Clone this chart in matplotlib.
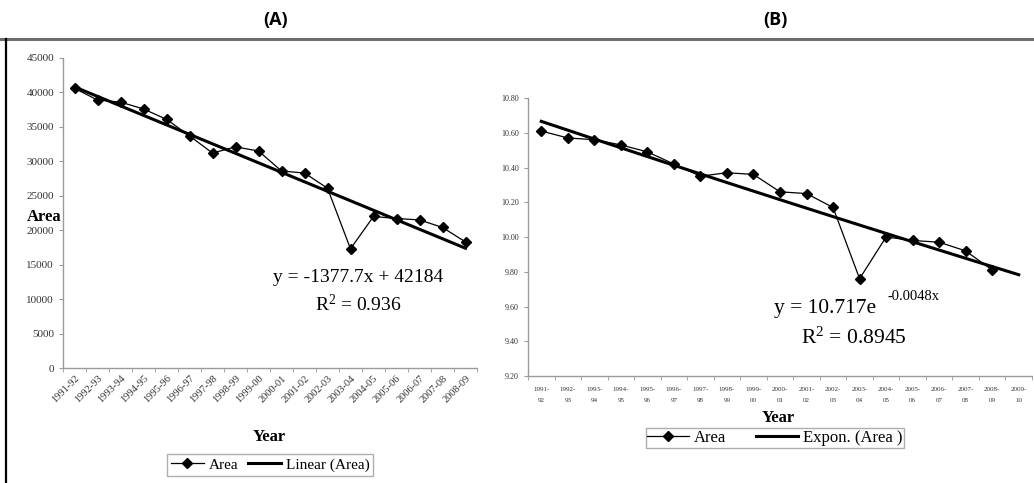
import numpy as np
import matplotlib
matplotlib.use("Agg")
import matplotlib.pyplot as plt
from matplotlib.lines import Line2D

W, H = 1034, 483

years_a = ["1991-92", "1992-93", "1993-94", "1994-95", "1995-96", "1996-97",
           "1997-98", "1998-99", "1999-00", "2000-01", "2001-02", "2002-03",
           "2003-04", "2004-05", "2005-06", "2006-07", "2007-08", "2008-09"]
area = [40600, 38900, 38600, 37600, 36100, 33700, 31200, 32100, 31500,
        28600, 28300, 26100, 17300, 22000, 21700, 21500, 20400, 18300]

years_b = years_a + ["2009-10"]
log_area = [10.61, 10.57, 10.56, 10.53, 10.49, 10.42, 10.35, 10.37, 10.36,
            10.26, 10.25, 10.17, 9.76, 10.00, 9.98, 9.97, 9.92, 9.81]

# trendline coefficients as printed on the charts
lin_slope, lin_icept = -1377.7, 42184
exp_a, exp_b = 10.717, -0.0048

SERIF = "Liberation Serif"
AXIS_GREY = "#9a9a9a"
TICK_COL = "#333333"

plt.rcParams["mathtext.fontset"] = "custom"
plt.rcParams["mathtext.rm"] = SERIF
plt.rcParams["mathtext.it"] = SERIF + ":italic"


def px_axes(fig, x0, x1, ytop, ybot):
    return fig.add_axes([x0 / W, (H - ybot) / H, (x1 - x0) / W, (ybot - ytop) / H])


def excel_style(ax, n):
    ax.set_xlim(-0.5, n - 0.5)
    for s in ("top", "right"):
        ax.spines[s].set_visible(False)
    for s in ("left", "bottom"):
        ax.spines[s].set_color(AXIS_GREY)
        ax.spines[s].set_linewidth(1.0)
    ax.set_xticks(np.arange(-0.5, n, 1.0), minor=True)
    ax.tick_params(axis="x", which="major", length=0)
    ax.tick_params(axis="x", which="minor", length=3, color=AXIS_GREY)
    ax.tick_params(axis="y", length=3, color=AXIS_GREY)


fig = plt.figure(figsize=(W / 100, H / 100), dpi=100)

# panel frame: grey top rule, black left edge
fig.add_artist(Line2D([0, 1], [1 - 39 / H] * 2, color="#6e6e6e", lw=2.2))
fig.add_artist(Line2D([6 / W] * 2, [0, 1 - 39 / H], color="black", lw=1.6))

fig.text(276 / W, 1 - 20 / H, "(A)", ha="center", va="center",
         fontsize=13, fontweight="bold", family="Open Sans")
fig.text(775 / W, 1 - 20 / H, "(B)", ha="center", va="center",
         fontsize=13, fontweight="bold", family="Open Sans")

# ---- (A) linear trend ----
ax = px_axes(fig, 63, 477, 58, 368)
n = len(years_a)
xa = np.arange(n)
ax.plot(xa, area, color="black", lw=0.9, marker="D", ms=5.5, label="Area")
xi = np.arange(1, n + 1)
ax.plot(xa, lin_slope * xi + lin_icept, color="black", lw=2.2, label="Linear (Area)")
ax.set_ylim(0, 45000)
ax.set_yticks(np.arange(0, 45001, 5000))
excel_style(ax, n)
ax.set_xticks(xa)
ax.set_xticklabels(years_a, rotation=45, ha="right", rotation_mode="anchor",
                   fontsize=7.5, family=SERIF, color=TICK_COL)
for t in ax.get_yticklabels():
    t.set_fontsize(8); t.set_family(SERIF); t.set_color(TICK_COL)
ax.tick_params(axis="x", which="major", pad=4)

fig.text(44 / W, 1 - 217 / H, "Area", ha="center", va="center",
         fontsize=12, fontweight="bold", family=SERIF)
fig.text(269 / W, 1 - 437 / H, "Year", ha="center", va="center",
         fontsize=12, fontweight="bold", family=SERIF)
fig.text(358 / W, 1 - 278 / H, "y = -1377.7x + 42184", ha="center", va="center",
         fontsize=14, family=SERIF)
fig.text(358 / W, 1 - 305 / H, "R$^2$ = 0.936", ha="center", va="center",
         fontsize=14, family=SERIF)
fig.legend(*ax.get_legend_handles_labels(), loc="center",
           bbox_to_anchor=(270 / W, 1 - 465 / H), ncol=2, frameon=True,
           fancybox=False, edgecolor=AXIS_GREY, prop={"family": SERIF, "size": 11},
           handlelength=2.2, handletextpad=0.3, columnspacing=0.6,
           borderpad=0.25, borderaxespad=0)

# ---- (B) exponential trend ----
bx = px_axes(fig, 528, 1032, 98, 376)
nb = len(years_b)
xb = np.arange(len(log_area))
bx.plot(xb, log_area, color="black", lw=0.9, marker="D", ms=5.5, label="Area")
xs = np.linspace(1, nb, 200)
bx.plot(xs - 1, exp_a * np.exp(exp_b * xs), color="black", lw=2.2, label="Expon. (Area )")
bx.set_ylim(9.2, 10.8)
bx.set_yticks(np.arange(9.2, 10.81, 0.2))
bx.set_yticklabels([f"{v:.2f}" for v in np.arange(9.2, 10.81, 0.2)])
excel_style(bx, nb)
bx.set_xticks(np.arange(nb))
bx.set_xticklabels([y.replace("-", "-\n") for y in years_b], fontsize=5,
                   family=SERIF, color=TICK_COL, linespacing=2.5)
for t in bx.get_yticklabels():
    t.set_fontsize(5.8); t.set_family(SERIF); t.set_color(TICK_COL)
bx.tick_params(axis="x", which="major", pad=8)

fig.text(778 / W, 1 - 418 / H, "Year", ha="center", va="center",
         fontsize=12, fontweight="bold", family=SERIF)
fig.text(825 / W, 1 - 308 / H, "y = 10.717e", ha="center", va="center",
         fontsize=15.5, family=SERIF)
fig.text(914 / W, 1 - 297 / H, "-0.0048x", ha="center", va="center",
         fontsize=10.5, family=SERIF)
fig.text(854 / W, 1 - 338 / H, "R$^2$ = 0.8945", ha="center", va="center",
         fontsize=15.5, family=SERIF)
fig.legend(*bx.get_legend_handles_labels(), loc="center",
           bbox_to_anchor=(775 / W, 1 - 438 / H), ncol=2, frameon=True,
           fancybox=False, edgecolor=AXIS_GREY, prop={"family": SERIF, "size": 12},
           handlelength=2.5, handletextpad=0.3, columnspacing=1.8,
           borderpad=0.1, borderaxespad=0)

fig.savefig("out.png", dpi=100)
